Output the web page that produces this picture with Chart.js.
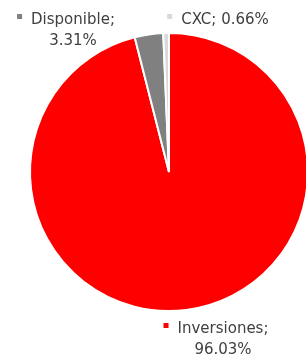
<!DOCTYPE html>
<html>
<head>
<meta charset="utf-8">
<script src="https://cdn.jsdelivr.net/npm/chart.js@4/dist/chart.umd.min.js"></script>
<style>
  html, body { margin: 0; padding: 0; background: #fff; overflow: hidden; }
  #wrap { position: relative; width: 340px; height: 354px; }
</style>
</head>
<body>
<div id="wrap"><canvas id="c"></canvas></div>
<script>
const categories = ["Inversiones", "Disponible", "CXC"];
const values = [96.03, 3.31, 0.66];
const valueLabels = ["96.03%", "3.31%", "0.66%"];
const colors = ["#FF0000", "#808080", "#D9D9D9"];

// label layout (text center x, first baseline y, one or two lines)
const labelLayout = [
  { cx: 223, y: 333, twoLines: true },
  { cx: 73, y: 24, twoLines: true },
  { cx: 225, y: 24, twoLines: false }
];

const FONT = '15px "DejaVu Sans"';
const TEXT_COLOR = '#404040';

const labelPlugin = {
  id: 'excelLabels',
  afterDraw(chart) {
    const ctx = chart.ctx;
    ctx.save();
    ctx.font = FONT;
    ctx.textBaseline = 'alphabetic';
    ctx.textAlign = 'center';
    categories.forEach((cat, i) => {
      const L = labelLayout[i];
      const lines = L.twoLines ? [cat + ';', valueLabels[i]] : [cat + '; ' + valueLabels[i]];
      lines.forEach((t, k) => {
        ctx.fillStyle = TEXT_COLOR;
        ctx.fillText(t, L.cx, L.y + k * 20.5);
      });
      const w = ctx.measureText(lines[0]).width;
      ctx.fillStyle = colors[i];
      ctx.fillRect(L.cx - w / 2 - 14, L.y - 10, 5, 5);
    });
    ctx.restore();
  }
};

new Chart(document.getElementById('c'), {
  type: 'pie',
  data: {
    labels: categories,
    datasets: [{
      data: values,
      backgroundColor: colors,
      borderColor: '#ffffff',
      borderWidth: 2
    }]
  },
  options: {
    responsive: true,
    maintainAspectRatio: false,
    animation: false,
    layout: { padding: { left: 29, right: 31, top: 32, bottom: 42 } },
    plugins: {
      legend: { display: false },
      tooltip: { enabled: false }
    }
  },
  plugins: [labelPlugin]
});
</script>
</body>
</html>
